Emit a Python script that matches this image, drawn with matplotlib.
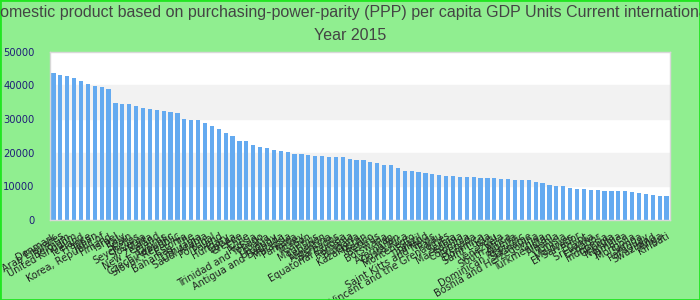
import matplotlib
matplotlib.use("Agg")
import matplotlib.pyplot as plt
from matplotlib.patches import Rectangle

# countries sorted by value (labels mostly overlap in the original)
countries = [
    "Denmark", "United Arab Emirates", "Belgium", "United Kingdom", "Iceland",
    "France", "Japan", "Korea, Republic of", "Finland", "Israel",
    "Italy", "Spain", "Seychelles", "Slovenia", "Malta",
    "New Zealand", "Cyprus", "Czech Republic", "Slovak Republic", "Estonia",
    "Bahamas, The", "Lithuania", "Saudi Arabia", "Portugal", "Poland",
    "Hungary", "Latvia", "Greece", "Chile", "Russia",
    "Trinidad and Tobago", "Croatia", "Uruguay", "Antigua and Barbuda", "Malaysia",
    "Panama", "Turkey", "Gabon", "Mauritius", "Lebanon",
    "Argentina", "Barbados", "Equatorial Guinea", "Romania", "Bulgaria",
    "Kazakhstan", "Mexico", "Belarus", "Botswana", "Iran",
    "Azerbaijan", "Costa Rica", "Montenegro", "Brazil", "Thailand",
    "Saint Kitts and Nevis", "Palau", "Saint Vincent and the Grenadines", "Serbia", "Macedonia",
    "Colombia", "Grenada", "Dominica", "Saint Lucia", "Peru",
    "Venezuela", "South Africa", "Algeria", "Dominican Republic", "Suriname",
    "Bosnia and Herzegovina", "China", "Turkmenistan", "Albania", "Tunisia",
    "Maldives", "El Salvador", "Egypt", "Sri Lanka", "Ecuador",
    "Indonesia", "Georgia", "Namibia", "Jamaica", "Mongolia",
    "Samoa", "Paraguay", "Swaziland", "Tonga", "Kiribati",
]

gdp_ppp = [
    43660, 43070, 42770, 42180, 41290, 40400, 39800, 39500, 38910, 34750,
    34460, 34460, 33860, 33270, 32970, 32670, 32380, 32080, 31780, 30000,
    29700, 29700, 28810, 27920, 27030, 25840, 24950, 23470, 23470, 22280,
    21680, 21390, 20790, 20500, 20200, 19600, 19600, 19310, 19010, 19010,
    18710, 18710, 18710, 18120, 17820, 17820, 17230, 16930, 16340, 16340,
    15450, 14550, 14550, 14260, 13960, 13660, 13370, 13070, 13070, 12770,
    12770, 12770, 12480, 12480, 12480, 12180, 12180, 11880, 11880, 11880,
    11290, 10990, 10400, 10100, 10100, 9500, 9210, 9210, 8910, 8910,
    8610, 8610, 8610, 8610, 8320, 8020, 7720, 7430, 7130, 7130,
]

y_ticks = [0, 10000, 20000, 30000, 40000, 50000]

title1 = ("Gross domestic product based on purchasing-power-parity (PPP) "
          "per capita GDP Units Current international dollar")
title2 = "Year 2015"

fig = plt.figure(figsize=(7, 3), dpi=100, facecolor="#90ee90")
ax = fig.add_axes([50/700, 1-220/300, 620/700, (220-51.7)/300])
ax.set_facecolor("white")

# alternating grey bands
for lo in [10000, 30000]:
    ax.axhspan(lo, lo + 10000, color="#f2f2f2", zorder=0)

xs = range(len(countries))
ax.bar(xs, gdp_ppp, width=0.6, color="#64aaf0", zorder=2)

ax.set_xlim(-0.5, len(countries) - 0.5)
ax.set_ylim(0, 50000)
ax.set_yticks(y_ticks)
ax.set_yticklabels([str(t) for t in y_ticks], color="#1f1f78",
                   fontsize=7.2, family="DejaVu Sans")
ax.set_xticks(list(xs))
ax.set_xticklabels(countries, rotation=30, ha="right", va="top",
                   rotation_mode="anchor", fontsize=7, color="#222222")
ax.tick_params(axis="both", length=0)
ax.tick_params(axis="y", pad=11)
ax.tick_params(axis="x", pad=8)
for s in ax.spines.values():
    s.set_color("#d8d8d8")
    s.set_linewidth(1)

fig.text(0.5, 1-13/300, title1, ha="center", va="center", fontsize=11.5,
         family="Liberation Sans", color="#444444")
fig.text(0.5, 1-36/300, title2, ha="center", va="center", fontsize=11.5,
         family="Liberation Sans", color="#444444")

# bright green frame around the figure
fig.patches.append(Rectangle((0, 0), 1, 1, transform=fig.transFigure,
                             fill=False, edgecolor="#22e622", linewidth=2))

fig.savefig("out.png", dpi=100, facecolor=fig.get_facecolor())
